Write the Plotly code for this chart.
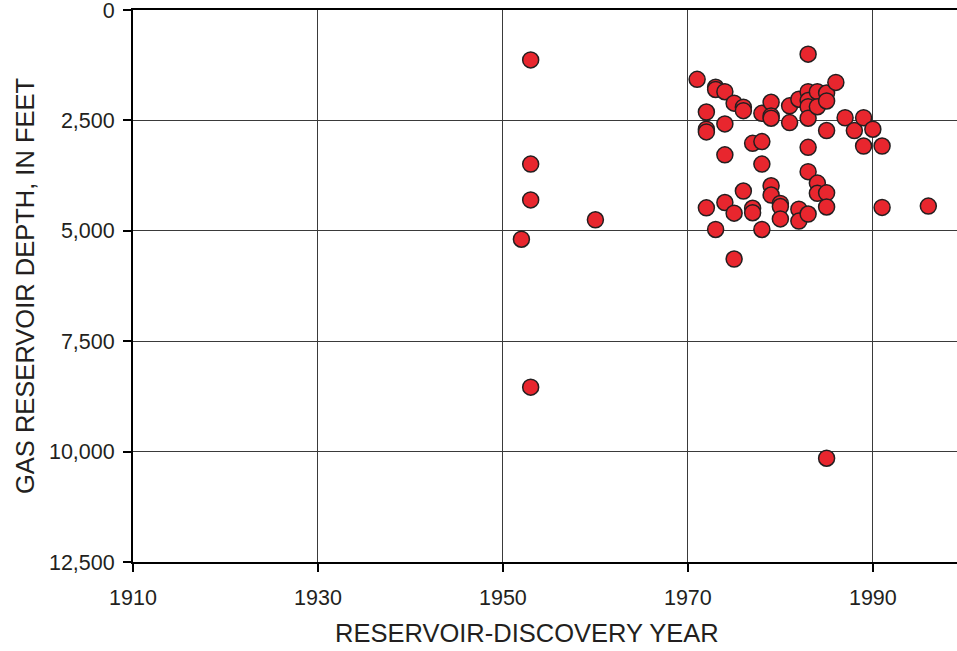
import plotly.graph_objects as go

# Discovery year and reservoir depth (feet) for each gas reservoir
years = [
    1952,
    1953, 1953, 1953, 1953,
    1960,
    1971,
    1972, 1972, 1972, 1972,
    1973, 1973, 1973,
    1974, 1974, 1974, 1974,
    1975, 1975, 1975,
    1976, 1976, 1976,
    1977, 1977, 1977,
    1978, 1978, 1978, 1978,
    1979, 1979, 1979, 1979, 1979,
    1980, 1980, 1980,
    1981, 1981,
    1982, 1982, 1982,
    1983, 1983, 1983, 1983, 1983, 1983, 1983, 1983,
    1984, 1984, 1984, 1984,
    1985, 1985, 1985, 1985, 1985, 1985,
    1986,
    1987,
    1988,
    1989, 1989,
    1990,
    1991, 1991,
    1996,
]
depths = [
    5190,
    1130, 3490, 4300, 8540,
    4750,
    1570,
    2310, 2700, 2760, 4480,
    1750, 1800, 4970,
    1850, 2580, 3280, 4360,
    2110, 4600, 5640,
    2200, 2280, 4100,
    3020, 4490, 4590,
    2340, 2980, 3490, 4970,
    2090, 2400, 2450, 3980, 4190,
    4380, 4450, 4730,
    2170, 2550,
    2020, 4510, 4780,
    1000, 1850, 2050, 2190, 2450, 3110, 3660, 4620,
    1850, 2190, 3920, 4150,
    1880, 2060, 2730, 4140, 4460, 10150,
    1640,
    2440,
    2730,
    2440, 3080,
    2700,
    3080, 4470,
    4440,
]

x_ticks = [1910, 1930, 1950, 1970, 1990]
y_ticks = [0, 2500, 5000, 7500, 10000, 12500]
y_tick_labels = ["0", "2,500", "5,000", "7,500", "10,000", "12,500"]

FONT = "Liberation Sans, Arial, sans-serif"

fig = go.Figure(
    go.Scatter(
        x=years,
        y=depths,
        mode="markers",
        marker=dict(
            size=16,
            color="#E8262E",
            line=dict(color="#231F20", width=1.5),
        ),
        hoverinfo="x+y",
    )
)

axis_common = dict(
    showline=True,
    linecolor="#000000",
    linewidth=2,
    ticks="outside",
    ticklen=8,
    tickwidth=2,
    tickcolor="#000000",
    showgrid=True,
    gridcolor="#3a3a3a",
    gridwidth=1,
    zeroline=False,
    ticklabeloverflow="allow",
    tickfont=dict(family=FONT, size=21.5, color="#231F20"),
)

fig.update_xaxes(
    range=[1910, 1999.1],
    tickvals=x_ticks,
    ticklabelstandoff=7,
    mirror=True,
    **axis_common,
)
fig.update_yaxes(
    range=[12500, 0],
    tickvals=y_ticks,
    ticktext=y_tick_labels,
    ticklabelstandoff=4,
    **axis_common,
)

fig.update_layout(
    width=957,
    height=651,
    margin=dict(l=133, r=0, t=10, b=89),
    plot_bgcolor="#FFFFFF",
    paper_bgcolor="#FFFFFF",
    showlegend=False,
    annotations=[
        dict(
            text="RESERVOIR-DISCOVERY YEAR",
            xref="paper", yref="paper",
            x=0.478, y=0,
            xanchor="center", yanchor="middle",
            yshift=-71,
            showarrow=False,
            font=dict(family=FONT, size=25.5, color="#231F20"),
        ),
        dict(
            text="GAS RESERVOIR DEPTH, IN FEET",
            xref="paper", yref="paper",
            x=0, y=0.5,
            xanchor="center", yanchor="middle",
            xshift=-108,
            textangle=-90,
            showarrow=False,
            font=dict(family=FONT, size=25.5, color="#231F20"),
        ),
    ],
)

fig.write_html("out.html")
